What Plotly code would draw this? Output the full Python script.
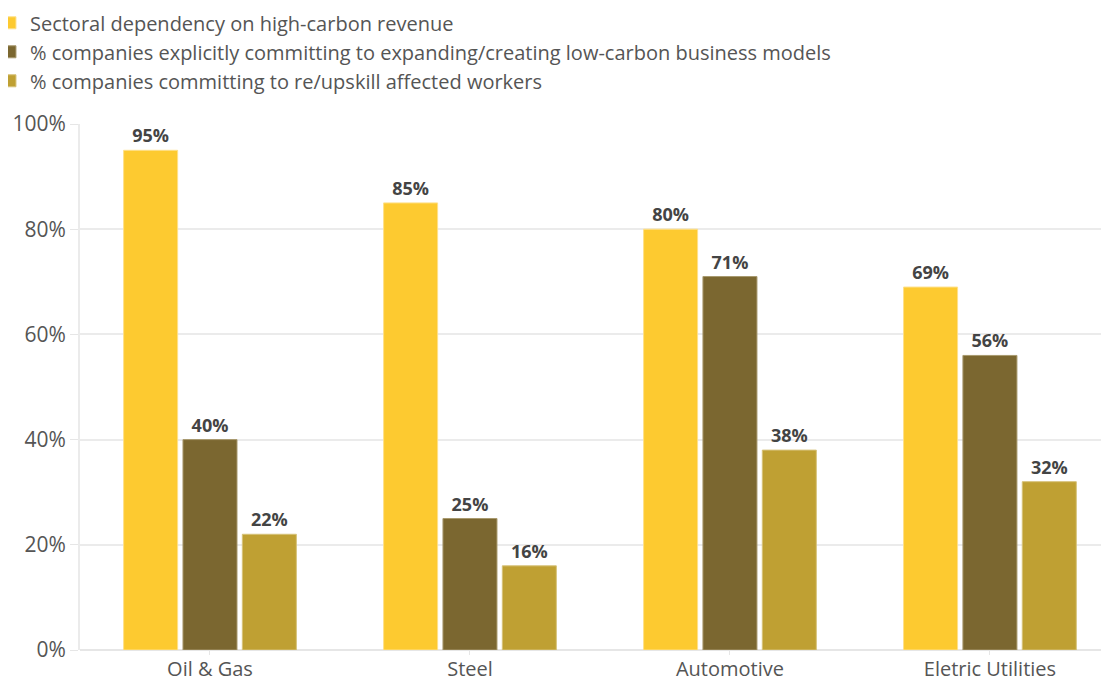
import plotly.graph_objects as go

categories = ["Oil & Gas", "Steel", "Automotive", "Eletric Utilities"]
series_names = [
    "Sectoral dependency on high-carbon revenue",
    "% companies explicitly committing to expanding/creating low-carbon business models",
    "% companies committing to re/upskill affected workers",
]
dependency = [95, 85, 80, 69]
low_carbon = [40, 25, 71, 56]
upskill = [22, 16, 38, 32]
y_ticks = [0, 20, 40, 60, 80, 100]
y_tick_labels = ["0%", "20%", "40%", "60%", "80%", "100%"]
bar_colors = ["#FDCA30", "#7B6730", "#BFA033"]
line_colors = ["#FEE08A", "#A8996E", "#D6C27A"]

fig = go.Figure()
for name, vals, col, lcol in zip(series_names, [dependency, low_carbon, upskill], bar_colors, line_colors):
    fig.add_trace(go.Bar(
        x=categories, y=vals, name=name,
        marker=dict(color=col, line=dict(color=lcol, width=1)),
        text=[f"{v}%" for v in vals], textposition="outside",
        textfont=dict(family="Open Sans", size=18, color="#444444", weight="bold"),
        cliponaxis=False,
    ))

# page body has an 8px margin, so the figure is sized/placed to compensate
fig.update_layout(
    width=1101, height=673,
    margin=dict(l=72, r=0, t=116, b=31, autoexpand=False),
    paper_bgcolor="white", plot_bgcolor="white",
    barmode="group", bargap=0.315, bargroupgap=0.09,
    font=dict(family="Open Sans", color="#555555"),
    legend=dict(
        orientation="v", x=-0.0875, xanchor="left", y=1.2295, yanchor="top",
        font=dict(size=20, color="#555555"), itemwidth=30, tracegroupgap=0,
        bgcolor="rgba(0,0,0,0)",
    ),
    showlegend=True,
)
fig.update_xaxes(
    range=[-0.5, 3.458], showgrid=False, ticks="outside", ticklen=4, tickcolor="#e6e6e6",
    tickfont=dict(size=20, color="#555555"), showline=False, ticklabelstandoff=-3,
)
fig.update_yaxes(
    range=[0, 100], tickvals=y_ticks, ticktext=y_tick_labels,
    showgrid=True, gridcolor="#ebebeb", gridwidth=2, zeroline=True, zerolinecolor="#e6e6e6", zerolinewidth=2,
    ticks="outside", ticklen=8, tickcolor="#e6e6e6", showline=True, linecolor="#ebebeb", linewidth=2,
    tickfont=dict(size=21, color="#555555"),
)

fig.write_html("out.html")
